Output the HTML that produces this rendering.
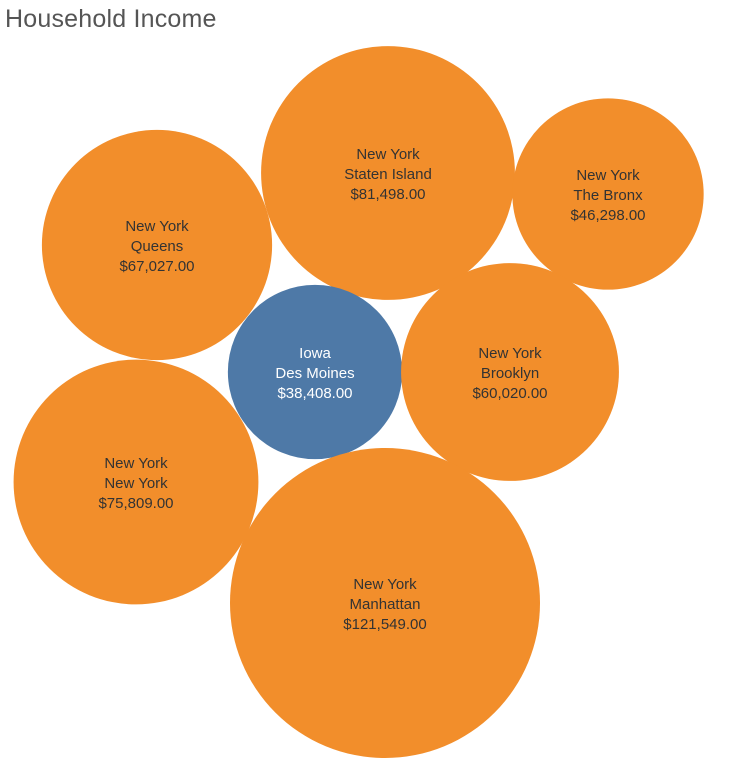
<!DOCTYPE html>
<html>
<head>
<meta charset="utf-8">
<style>
  html, body { margin: 0; padding: 0; background: #fff; }
  body { width: 755px; height: 767px; overflow: hidden; position: relative; font-family: "Liberation Sans", sans-serif; }
  #title { position: absolute; left: 5px; top: 5px; font-size: 25px; color: #555; font-weight: 300; letter-spacing: 0.2px; }
  svg { position: absolute; left: 0; top: 0; }
</style>
</head>
<body>
<div id="title">Household Income</div>
<svg id="chart" width="755" height="767"></svg>
<script>
const states = ["New York","New York","New York","Iowa","New York","New York","New York"];
const cities = ["Staten Island","The Bronx","Queens","Des Moines","Brooklyn","New York","Manhattan"];
const incomes = [81498, 46298, 67027, 38408, 60020, 75809, 121549];
// packed-bubble layout (centers) produced by the packing, not data
const layoutCenters = [[388,173],[608,194],[157,245],[315,372],[510,372],[136,482],[385,603]];

const svg = document.getElementById('chart');
const NS = 'http://www.w3.org/2000/svg';
const rScale = v => 0.4446 * Math.sqrt(v);
const fmt = v => '$' + v.toLocaleString('en-US', {minimumFractionDigits: 2, maximumFractionDigits: 2});

incomes.forEach((v, i) => {
  const [cx, cy] = layoutCenters[i];
  const g = document.createElementNS(NS, 'g');
  
  
  const c = document.createElementNS(NS, 'circle');
  c.setAttribute('cx', cx); c.setAttribute('cy', cy); c.setAttribute('r', rScale(v));
  c.setAttribute('fill', states[i] === 'Iowa' ? '#4E79A7' : '#F28E2B');
  
  
  g.appendChild(c);
  const lines = [states[i], cities[i], fmt(v)];
  lines.forEach((t, k) => {
    const tx = document.createElementNS(NS, 'text');
    tx.setAttribute('x', cx); tx.setAttribute('y', cy - 20 + k * 20 + 6);
    tx.setAttribute('text-anchor', 'middle');
    tx.setAttribute('font-size', '15');
    tx.setAttribute('font-family', '"Liberation Sans", sans-serif');
    tx.setAttribute('fill', states[i] === 'Iowa' ? '#ffffff' : '#333333');
    
    
    tx.textContent = t;
    g.appendChild(tx);
  });
  svg.appendChild(g);
});
</script>
</body>
</html>
